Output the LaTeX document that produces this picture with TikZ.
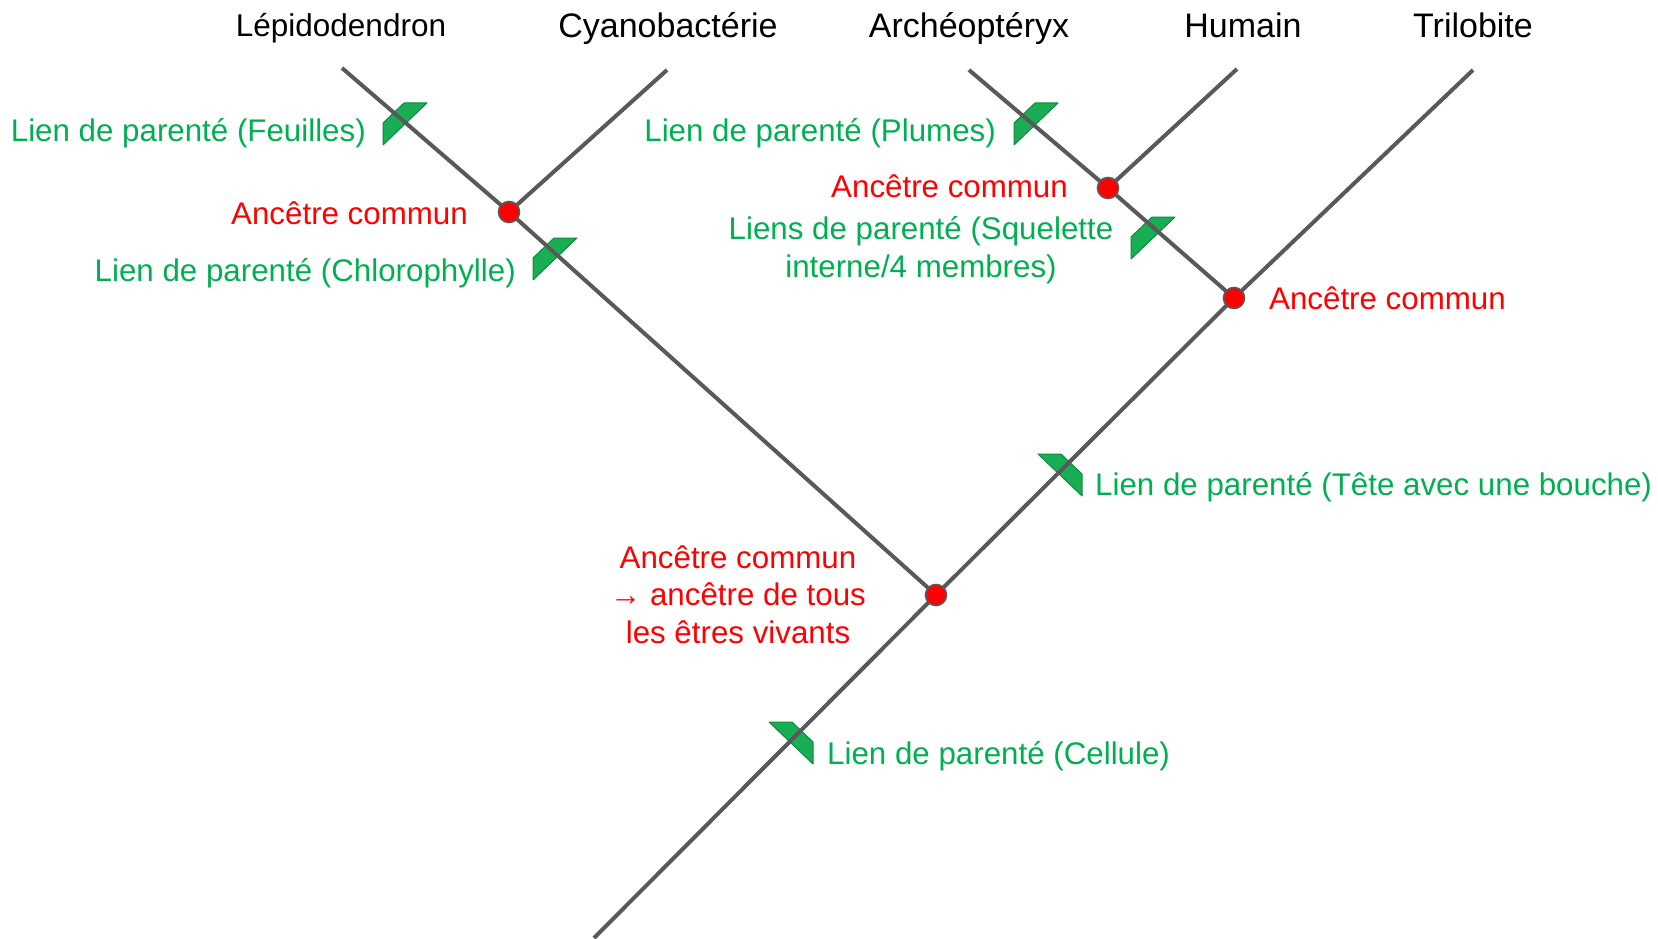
\documentclass[tikz,border=0pt]{standalone}
\usepackage{fontspec}
\setmainfont{Liberation Sans}
\definecolor{branch}{HTML}{595959}
\definecolor{tgreen}{HTML}{00B050}
\definecolor{mfill}{HTML}{19AE54}
\definecolor{mdraw}{HTML}{10893F}
\tikzset{
  every node/.style={font=\fontsize{31.3}{37.5}\selectfont, inner sep=0pt},
  branchline/.style={draw=branch, line width=4pt},
  anc/.style={circle, fill=red, draw=branch, line width=1.6pt, minimum size=21pt, inner sep=0pt},
  taxon/.style={anchor=base, text=black, font=\fontsize{34}{40}\selectfont},
  trait/.style={text=tgreen},
  anclbl/.style={text=red},
  markstyle/.style={fill=mfill, draw=mdraw, line width=1pt, line join=round},
  markL/.pic={\filldraw[markstyle] (-22,21) -- (-22,-1) -- (-1,-21) -- (22,-21) -- cycle;},
  markR/.pic={\filldraw[markstyle] (22,21) -- (22,-1) -- (1,-21) -- (-22,-21) -- cycle;},
}
\begin{document}
\begin{tikzpicture}[x=1pt, y=-1pt]
\useasboundingbox (0,0) rectangle (1658,939);
% tips and internal points
\coordinate (t1) at (342,68);
\coordinate (t2) at (667,70);
\coordinate (t3) at (969,70);
\coordinate (t4) at (1237,69);
\coordinate (t5) at (1473,70);
\coordinate (root) at (594,938);
\coordinate (pA) at (509,212);
\coordinate (pB) at (1108,188);
\coordinate (pC) at (1234,298);
\coordinate (pD) at (936,595);
% trait markers
\pic at (405,124) {markL};
\pic at (555,259) {markL};
\pic at (1036,124) {markL};
\pic at (1153,238) {markL};
\pic at (1060,475) {markR};
\pic at (791,743) {markR};
% branches
\draw[branchline] (t1) -- (pA) -- (pD);
\draw[branchline] (t2) -- (pA);
\draw[branchline] (t3) -- (pB) -- (pC);
\draw[branchline] (t4) -- (pB);
\draw[branchline] (t5) -- (pC) -- (pD) -- (root);
% ancestors
\node[anc] (A) at (pA) {};
\node[anc] (B) at (pB) {};
\node[anc] (C) at (pC) {};
\node[anc] (D) at (pD) {};
% taxa
\node[taxon, font=\fontsize{31.5}{37.5}\selectfont] (n1) at (341,37) {Lépidodendron};
\node[taxon] (n2) at (668,38) {Cyanobactérie};
\node[taxon] (n3) at (969,38) {Archéoptéryx};
\node[taxon] (n4) at (1243,38) {Humain};
\node[taxon] (n5) at (1473,38) {Trilobite};
% trait labels
\node[trait, anchor=base east] (l1) at (366,142) {Lien de parenté (Feuilles)};
\node[trait, anchor=base east] (l2) at (516,281) {Lien de parenté (Chlorophylle)};
\node[trait, anchor=base east] (l3) at (996,142) {Lien de parenté (Plumes)};
\node[trait, anchor=base, align=center] (l4) at (921,277) {Liens de parenté (Squelette\\interne/4 membres)};
\node[trait, anchor=base west] (l5) at (1095,495) {Lien de parenté (Tête avec une bouche)};
\node[trait, anchor=base west] (l6) at (827,764) {Lien de parenté (Cellule)};
% ancestor labels
\node[anclbl, anchor=base east] (a1) at (468,224) {Ancêtre commun};
\node[anclbl, anchor=base east] (a2) at (1068,197) {Ancêtre commun};
\node[anclbl, anchor=base west] (a3) at (1269,309) {Ancêtre commun};
\node[anclbl, anchor=base, align=center] (a4) at (738,643) {Ancêtre commun\\→ ancêtre de tous\\les êtres vivants};
\end{tikzpicture}
\end{document}
